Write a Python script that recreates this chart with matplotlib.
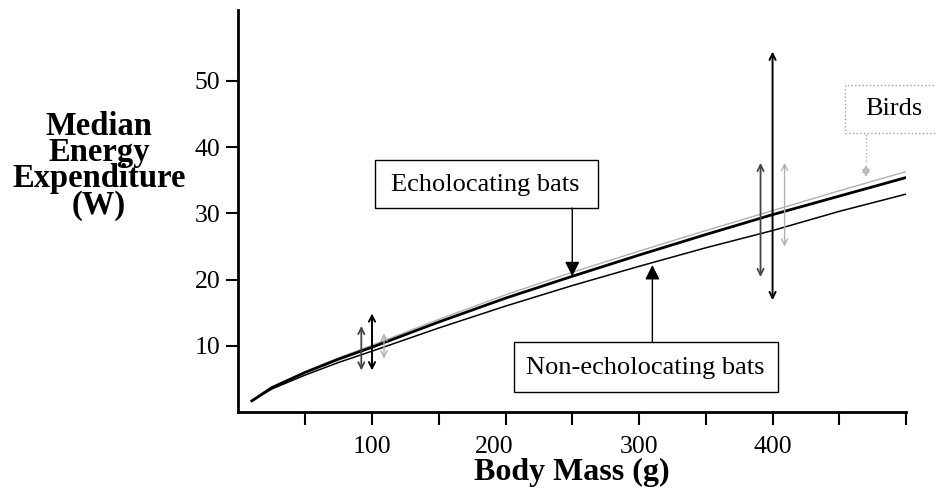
import matplotlib.pyplot as plt
from matplotlib.patches import Rectangle
from matplotlib.transforms import ScaledTranslation

plt.rcParams['font.family'] = ['Liberation Serif', 'DejaVu Serif']

# body mass (g) and median energy expenditure (W) for each group
mass = [10, 25, 50, 75, 100, 150, 200, 250, 300, 350, 400, 450, 500]
echo_bats = [1.7, 3.7, 6.0, 8.0, 9.8, 13.6, 17.2, 20.5, 23.7, 26.8, 29.8, 32.6, 35.4]
non_echo_bats = [1.7, 3.5, 5.6, 7.5, 9.2, 12.7, 16.0, 19.1, 22.0, 24.8, 27.4, 30.3, 32.9]
birds = [1.7, 3.8, 6.1, 8.2, 10.1, 14.0, 17.7, 21.1, 24.3, 27.4, 30.4, 33.4, 36.3]

# ranges shown as double-headed arrows: (mass, low, high)
echo_ranges = [(100, 6.3, 14.9), (400, 16.9, 54.4)]
non_echo_ranges = [(92, 6.3, 13.0), (391, 20.4, 37.6)]
bird_ranges = [(109, 8.1, 11.9), (409, 25.0, 37.6), (470, 35.5, 37.3)]

xticks = [50, 100, 150, 200, 250, 300, 350, 400, 450, 500]
xticklabels = ['', '100', '', '200', '', '300', '', '400', '', '']
yticks = [10, 20, 30, 40, 50]

fig = plt.figure(figsize=(9.37, 4.93), dpi=100)
ax = fig.add_axes([0.2545, 0.164, 0.7125, 0.816])

ax.plot(mass, birds, color='#b0b0b0', lw=1.0)
ax.plot(mass, non_echo_bats, color='black', lw=1.1)
ax.plot(mass, echo_bats, color='black', lw=2.0)


def range_arrows(ranges, color, lw, ls='-'):
    for m, lo, hi in ranges:
        ax.annotate('', xy=(m, hi), xytext=(m, lo),
                    arrowprops=dict(arrowstyle='<->', color=color, lw=lw,
                                    linestyle=ls, shrinkA=0, shrinkB=0,
                                    mutation_scale=11))


range_arrows(echo_ranges, 'black', 1.4)
range_arrows(non_echo_ranges, '#444444', 1.3)
range_arrows(bird_ranges, '#b0b0b0', 1.0)

# labelled boxes
ax.add_patch(Rectangle((102, 30.8), 167, 7.3, fill=False, ec='black', lw=1.0))
ax.text(185, 34.3, 'Echolocating bats', ha='center', va='center', fontsize=19)
ax.annotate('', xy=(250, 20.5), xytext=(250, 30.8),
            arrowprops=dict(arrowstyle='-|>', color='black', lw=1.0,
                            shrinkA=0, shrinkB=0, mutation_scale=22))

ax.add_patch(Rectangle((206.5, 3.0), 197.5, 7.6, fill=False, ec='black', lw=1.0))
ax.text(305, 6.7, 'Non-echolocating bats', ha='center', va='center', fontsize=19)
ax.annotate('', xy=(310, 22.2), xytext=(310, 10.6),
            arrowprops=dict(arrowstyle='-|>', color='black', lw=1.0,
                            shrinkA=0, shrinkB=0, mutation_scale=22))

ax.add_patch(Rectangle((454.5, 42.1), 80, 7.3, fill=False, ec='#a0a0a0', lw=1.0,
                       ls=':', clip_on=False))
ax.text(491, 45.8, 'Birds', ha='center', va='center', fontsize=19, clip_on=False)
ax.plot([470, 470], [42.0, 37.4], color='#b0b0b0', lw=1.0, ls=':')

ax.set_xlim(0, 500)
ax.set_ylim(0, 60.7)
ax.set_xticks(xticks)
ax.set_xticklabels(xticklabels)
ax.set_yticks(yticks)
ax.tick_params(labelsize=18.5, width=1.5, length=9, direction='out')
ax.tick_params(axis='x', pad=8)
ax.tick_params(axis='y', pad=4)
for side in ('top', 'right'):
    ax.spines[side].set_visible(False)
for side in ('left', 'bottom'):
    ax.spines[side].set_linewidth(2.0)

# the "200" label sits a little left of its tick
lbl = ax.get_xticklabels()[3]
lbl.set_transform(lbl.get_transform() + ScaledTranslation(-0.11, 0, fig.dpi_scale_trans))

fig.text(572 / 937, 1 - 472 / 493, 'Body Mass (g)', ha='center', va='center',
         fontsize=23, fontweight='bold')
fig.text(99 / 937, 1 - 166 / 493, 'Median\nEnergy\nExpenditure\n(W)',
         ha='center', va='center', fontsize=23.5, fontweight='bold', linespacing=0.8)

fig.savefig('out.png', dpi=100)
